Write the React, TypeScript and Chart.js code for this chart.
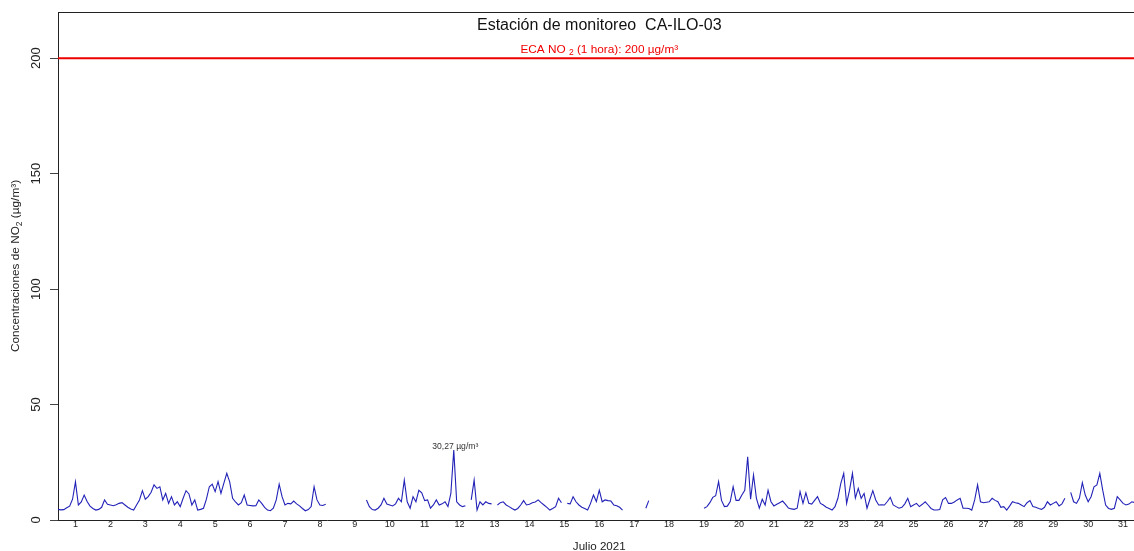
import React, { useEffect, useRef } from 'react';
import { Chart, registerables } from 'chart.js';

Chart.register(...registerables);

const FONT = '"Liberation Sans", Arial, Helvetica, sans-serif';

// NO2 hourly concentrations (µg/m³), sampled every 2 hours (00,02,...,22 h) for each day of July 2021
const day01 = [4.6, 4.4, 4.5, 5.3, 6.0, 9.0, 16.5, 6.5, 7.8, 10.8, 8.0, 6.0];
const day02 = [5.0, 4.3, 4.6, 5.5, 8.7, 6.8, 6.5, 6.2, 6.6, 7.2, 7.5, 6.5];
const day03 = [5.5, 4.8, 4.3, 6.5, 8.7, 12.7, 9.0, 10.1, 12.0, 15.2, 13.7, 14.4];
const day04 = [8.7, 11.5, 7.2, 10.1, 6.5, 7.9, 5.8, 9.4, 12.7, 11.3, 6.5, 8.7];
const day05 = [4.3, 4.6, 5.1, 9.0, 14.4, 15.5, 12.3, 16.6, 11.5, 16.0, 20.2, 16.5];
const day06 = [9.4, 7.8, 6.5, 7.5, 10.8, 6.5, 6.3, 6.1, 6.2, 8.7, 7.2, 5.5];
const day07 = [4.3, 4.0, 5.1, 8.7, 15.5, 10.1, 6.5, 7.2, 7.0, 8.2, 7.0, 6.1];
const day08 = [5.0, 4.0, 4.5, 5.8, 14.4, 8.7, 6.5, 6.3, 6.8, null, null, null];
const day09 = [null, null, null, null, null, null, null, null, null, null, 8.7, 5.8];
const day10 = [4.5, 4.3, 5.1, 6.5, 9.4, 6.9, 6.5, 6.1, 7.0, 9.4, 7.9, 17.3];
const day11 = [7.9, 5.1, 10.1, 7.9, 12.9, 11.8, 8.4, 8.7, 5.1, 6.5, 8.7, 6.5];
const day12 = [7.0, 7.9, 5.8, 11.5, 30.27, 7.9, 6.5, 5.8, 6.2, null, 8.7, 17.3];
const day13 = [4.3, 7.9, 6.5, 7.9, 7.2, 7.0, null, 6.5, 7.5, 7.9, 6.5, 5.8];
const day14 = [5.0, 4.3, 5.0, 6.5, 8.4, 6.5, 6.8, 7.5, 7.8, 8.7, 7.5, 6.5];
const day15 = [5.5, 4.3, 5.0, 5.8, 9.4, 7.5, null, 7.2, 7.0, 10.1, 7.9, 6.5];
const day16 = [5.5, 5.0, 4.3, 7.2, 10.8, 8.0, 12.9, 7.9, 8.7, 8.4, 8.2, 6.5];
const day17 = [6.2, 5.5, 4.3, null, null, null, null, null, null, null, 5.1, 8.4];
const day18 = [null, null, null, null, null, null, null, null, null, null, null, null];
const day19 = [null, null, null, null, null, null, 5.1, 5.8, 7.5, 9.8, 10.5, 16.6];
const day20 = [8.5, 5.8, 6.0, 8.0, 14.4, 8.5, 8.5, 10.8, 12.9, 27.4, 9.0, 19.5];
const day21 = [9.4, 5.1, 9.0, 6.5, 12.9, 7.9, 6.1, 6.8, 7.5, 8.2, 6.8, 5.2];
const day22 = [4.8, 4.6, 5.1, 12.3, 7.2, 11.8, 7.2, 6.9, 8.5, 10.1, 7.2, 6.5];
const day23 = [5.5, 5.0, 4.3, 5.8, 9.4, 15.9, 20.2, 7.2, 12.9, 20.2, 9.5, 13.7];
const day24 = [9.4, 11.5, 5.1, 9.0, 12.7, 8.7, 6.5, 6.6, 6.5, 8.0, 9.8, 6.5];
const day25 = [5.8, 5.1, 5.5, 7.0, 9.4, 5.8, 6.5, 7.2, 5.8, 6.8, 7.9, 6.5];
const day26 = [5.0, 4.3, 4.3, 4.5, 8.7, 9.7, 7.2, 7.2, 7.8, 8.7, 9.4, 5.1];
const day27 = [5.1, 5.0, 4.3, 8.7, 15.2, 7.9, 7.5, 7.7, 7.9, 9.4, 8.5, 7.9];
const day28 = [5.5, 5.8, 4.3, 6.0, 7.9, 7.5, 7.2, 6.5, 5.8, 7.5, 8.4, 5.8];
const day29 = [5.5, 5.0, 4.6, 5.5, 7.9, 6.5, 7.2, 7.9, 6.1, 7.0, 9.4, null];
const day30 = [12.0, 7.9, 7.2, 9.5, 16.2, 10.8, 7.9, 10.1, 14.4, 15.2, 20.2, 12.9];
const day31 = [6.5, 5.0, 4.6, 5.1, 10.1, 8.7, 7.2, 6.5, 6.9, 7.9, 7.5, 7.0];

const days: (number | null)[][] = [
  day01, day02, day03, day04, day05, day06, day07, day08, day09, day10,
  day11, day12, day13, day14, day15, day16, day17, day18, day19, day20,
  day21, day22, day23, day24, day25, day26, day27, day28, day29, day30, day31,
];

const dayLabels = days.map((_, i) => String(i + 1));
const yTicks = [0, 50, 100, 150, 200];
const ecaLimit = 200;
const HOURS_PER_DAY = 24;
const STEP_HOURS = 2;
const totalHours = days.length * HOURS_PER_DAY;

const seriesPoints = days.flatMap((vals, d) =>
  vals.map((v, i) => ({ x: d * HOURS_PER_DAY + i * STEP_HOURS, y: v }))
);

// maximum value for annotation
const peak = seriesPoints.reduce(
  (best, p) => (p.y !== null && (best.y === null || (p.y as number) > (best.y as number)) ? p : best),
  seriesPoints[0]
);

type Seg = { text: string; size: number; dy: number };

function drawRich(ctx: CanvasRenderingContext2D, segs: Seg[], x: number, y: number, rot: number, color: string) {
  ctx.save();
  ctx.translate(x, y);
  ctx.rotate(rot);
  ctx.fillStyle = color;
  ctx.textBaseline = 'alphabetic';
  ctx.textAlign = 'left';
  let total = 0;
  const widths: number[] = [];
  for (const s of segs) {
    ctx.font = `${s.size}px ${FONT}`;
    const w = ctx.measureText(s.text).width;
    widths.push(w);
    total += w;
  }
  let cx = -total / 2;
  segs.forEach((s, i) => {
    ctx.font = `${s.size}px ${FONT}`;
    ctx.fillText(s.text, cx, s.dy);
    cx += widths[i];
  });
  ctx.restore();
}

const decorPlugin = {
  id: 'decor',
  afterDraw(chart: any) {
    const { ctx, chartArea: a, scales } = chart;
    const xs = scales.x;
    const ys = scales.y;
    const cx = (xs.getPixelForValue(0) + xs.getPixelForValue(totalHours)) / 2;
    ctx.save();
    // top frame line
    ctx.strokeStyle = '#222';
    ctx.lineWidth = 1;
    ctx.beginPath();
    ctx.moveTo(a.left, a.top + 0.5);
    ctx.lineTo(a.right, a.top + 0.5);
    ctx.stroke();

    // title
    drawRich(ctx, [{ text: 'Estación de monitoreo  CA-ILO-03', size: 16, dy: 0 }], cx, 30, 0, '#111');
    // ECA label
    drawRich(
      ctx,
      [
        { text: 'ECA NO ', size: 11.8, dy: 0 },
        { text: '2', size: 8.5, dy: 2.8 },
        { text: ' (1 hora): 200 µg/m³', size: 11.8, dy: 0 },
      ],
      cx,
      ys.getPixelForValue(ecaLimit) - 5.6,
      0,
      '#f00000'
    );

    // y tick labels (rotated)
    for (const v of yTicks) {
      drawRich(ctx, [{ text: String(v), size: 13, dy: 0 }], 40, ys.getPixelForValue(v), -Math.PI / 2, '#222');
    }

    // y axis title
    drawRich(
      ctx,
      [
        { text: 'Concentraciones de NO', size: 11.8, dy: 0 },
        { text: '2', size: 8.5, dy: 2.8 },
        { text: ' (µg/m³)', size: 11.8, dy: 0 },
      ],
      19,
      (a.top + a.bottom) / 2,
      -Math.PI / 2,
      '#222'
    );

    // x axis title
    drawRich(ctx, [{ text: 'Julio 2021', size: 11.6, dy: 0 }], cx, 550, 0, '#222');

    // peak annotation
    if (peak.y !== null) {
      const label = (peak.y as number).toFixed(2).replace('.', ',') + ' µg/m³';
      drawRich(
        ctx,
        [{ text: label, size: 8.6, dy: 0 }],
        xs.getPixelForValue(peak.x) + 1.5,
        ys.getPixelForValue(peak.y as number) - 0.8,
        0,
        '#333'
      );
    }
    ctx.restore();
  },
};

export default function App() {
  const ref = useRef<HTMLCanvasElement>(null);
  useEffect(() => {
    if (!ref.current) return;
    const chart = new Chart(ref.current, {
      type: 'line',
      data: {
        datasets: [
          {
            label: 'NO2',
            data: seriesPoints as any,
            borderColor: '#2222b8',
            borderWidth: 1.1,
            pointRadius: 0,
            tension: 0,
            spanGaps: false,
          },
          {
            label: 'ECA',
            data: [
              { x: 0, y: ecaLimit },
              { x: totalHours, y: ecaLimit },
            ] as any,
            borderColor: '#ee0000',
            borderWidth: 2,
            pointRadius: 0,
          },
        ],
      },
      options: {
        animation: false,
        responsive: false,
        devicePixelRatio: 1,
        layout: { padding: { top: 12, left: 0, right: 0, bottom: 0 } },
        plugins: {
          legend: { display: false },
          tooltip: { enabled: false },
          title: { display: false },
        },
        scales: {
          x: {
            type: 'linear',
            min: 0,
            max: 739.5,
            afterBuildTicks: (s: any) => {
              s.ticks = dayLabels.map((_, i) => ({ value: i * HOURS_PER_DAY + HOURS_PER_DAY / 2 }));
            },
            afterFit: (s: any) => {
              s.height = 31;
            },
            grid: { display: false, drawTicks: false },
            border: { display: true, color: '#222', width: 1 },
            ticks: {
              autoSkip: false,
              maxRotation: 0,
              minRotation: 0,
              padding: -1,
              color: '#222',
              font: { family: FONT, size: 9 },
              callback: (_v: any, i: number) => dayLabels[i],
            },
          },
          y: {
            type: 'linear',
            min: 0,
            max: 220,
            afterBuildTicks: (s: any) => {
              s.ticks = yTicks.map((v) => ({ value: v }));
            },
            afterFit: (s: any) => {
              s.width = 58;
            },
            grid: { display: true, drawOnChartArea: false, drawTicks: true, tickLength: 8, color: '#444' },
            border: { display: true, color: '#222', width: 1 },
            ticks: { display: false },
          },
        },
      },
      plugins: [decorPlugin],
    });
    return () => chart.destroy();
  }, []);
  return (
    <div style={{ position: 'absolute', left: 0, top: 0, width: 1134, height: 551, background: '#fff' }}>
      <canvas ref={ref} width={1134} height={551} style={{ display: 'block' }} />
    </div>
  );
}
